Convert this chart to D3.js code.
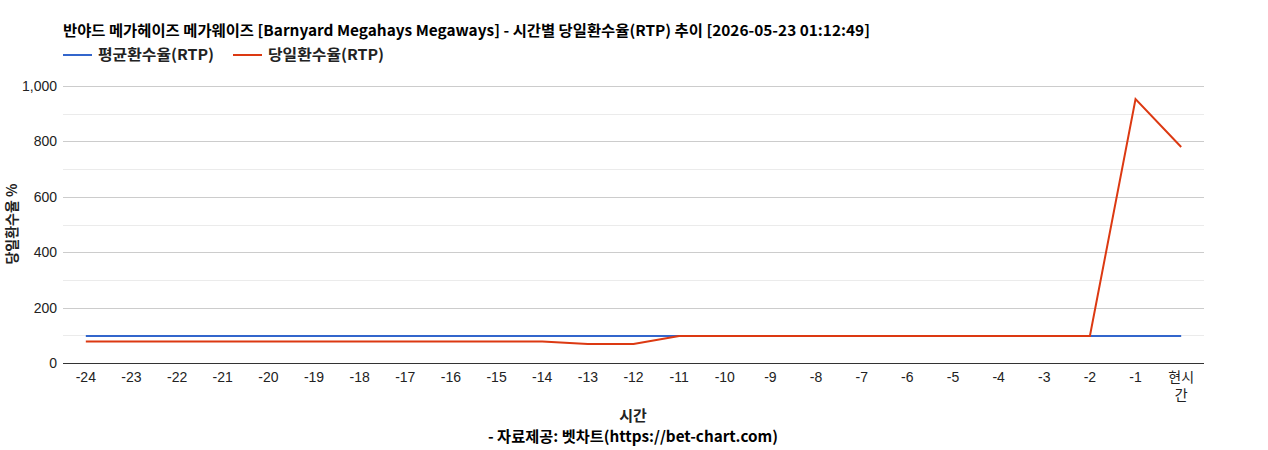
<!DOCTYPE html>
<html>
<head>
<meta charset="utf-8">
<script src="https://cdn.jsdelivr.net/npm/d3@7/dist/d3.min.js"></script>
<style>
  body { margin: 0; background: #fff; }
  text { font-family: "Liberation Sans", Arial, "Noto Sans CJK KR", sans-serif; }
  .kr { font-family: "Noto Sans CJK KR", sans-serif; }
</style>
</head>
<body>
<div id="chart"></div>
<script>
var w = 1268;
var h = 450;

var hours = ["-24","-23","-22","-21","-20","-19","-18","-17","-16","-15","-14","-13","-12",
             "-11","-10","-9","-8","-7","-6","-5","-4","-3","-2","-1","현시간"];
var avgRtp = [97.5,97.5,97.5,97.5,97.5,97.5,97.5,97.5,97.5,97.5,97.5,97.5,97.5,
              97.5,97.5,97.5,97.5,97.5,97.5,97.5,97.5,97.5,97.5,97.5,97.5];
var dayRtp = [78,78,78,78,78,78,78,78,78,78,78,69,69,
              97.6,97.6,97.6,97.6,97.6,97.6,97.6,97.6,97.6,97.6,953,780];
var yTicks = [0,200,400,600,800,1000];
var yMinor = [100,300,500,700,900];

var plotLeft = 63, plotRight = 1204, plotTop = 86, plotBottom = 363;

var svg = d3.select("#chart").append("svg")
            .attr("width", w)
            .attr("height", h);

var x = d3.scalePoint()
          .domain(hours)
          .range([plotLeft, plotRight])
          .padding(0.5);
var y = d3.scaleLinear()
          .domain([0, 1000])
          .range([plotBottom, plotTop]);

// gridlines
svg.selectAll("line.minor")
   .data(yMinor)
   .enter()
   .append("line")
   .attr("class", "minor")
   .attr("x1", plotLeft).attr("x2", plotRight)
   .attr("y1", function(d) { return Math.round(y(d)) + 0.5; })
   .attr("y2", function(d) { return Math.round(y(d)) + 0.5; })
   .attr("stroke", "#ebebeb");
svg.selectAll("line.major")
   .data(yTicks.slice(1))
   .enter()
   .append("line")
   .attr("class", "major")
   .attr("x1", plotLeft).attr("x2", plotRight)
   .attr("y1", function(d) { return Math.round(y(d)) + 0.5; })
   .attr("y2", function(d) { return Math.round(y(d)) + 0.5; })
   .attr("stroke", "#cccccc");

// y tick labels
svg.selectAll("text.ytick")
   .data(yTicks)
   .enter()
   .append("text")
   .attr("class", "ytick")
   .attr("x", plotLeft - 6)
   .attr("y", function(d) { return y(d) + 5; })
   .attr("text-anchor", "end")
   .attr("font-size", 14)
   .attr("fill", "#222")
   .text(function(d) { return d3.format(",")(d); });

// lines
var line = d3.line()
             .x(function(d, i) { return x(hours[i]); })
             .y(function(d) { return y(d); });

svg.append("path")
   .attr("d", line(avgRtp))
   .attr("fill", "none")
   .attr("stroke", "#3366cc")
   .attr("stroke-width", 2);
svg.append("path")
   .attr("d", line(dayRtp))
   .attr("fill", "none")
   .attr("stroke", "#dc3912")
   .attr("stroke-width", 2);

// baseline
svg.append("line")
   .attr("x1", plotLeft).attr("x2", plotRight)
   .attr("y1", plotBottom + 0.5).attr("y2", plotBottom + 0.5)
   .attr("stroke", "#333");

// x tick labels
var xt = svg.selectAll("text.xtick")
   .data(hours)
   .enter()
   .append("text")
   .attr("class", "xtick")
   .attr("x", function(d) { return x(d); })
   .attr("y", 382)
   .attr("text-anchor", "middle")
   .attr("font-size", 14)
   .attr("fill", "#222");
xt.filter(function(d) { return d !== "현시간"; }).text(function(d) { return d; });
var now = xt.filter(function(d) { return d === "현시간"; }).attr("class", "xtick kr");
now.append("tspan").attr("x", x("현시간")).attr("y", 382).text("현시");
now.append("tspan").attr("x", x("현시간")).attr("y", 400).text("간");

// titles
svg.append("text")
   .attr("class", "kr")
   .attr("x", 63).attr("y", 36)
   .attr("font-size", 15).attr("font-weight", "bold").attr("fill", "#000")
   .attr("textLength", 807).attr("lengthAdjust", "spacingAndGlyphs")
   .text("반야드 메가헤이즈 메가웨이즈 [Barnyard Megahays Megaways] - 시간별 당일환수율(RTP) 추이 [2026-05-23 01:12:49]");

var legend = [["평균환수율(RTP)", "#3366cc", 63], ["당일환수율(RTP)", "#dc3912", 233]];
legend.forEach(function(l) {
  svg.append("line")
     .attr("x1", l[2]).attr("x2", l[2] + 29)
     .attr("y1", 55).attr("y2", 55)
     .attr("stroke", l[1]).attr("stroke-width", 2);
  svg.append("text")
     .attr("class", "kr")
     .attr("x", l[2] + 35).attr("y", 60)
     .attr("font-size", 15).attr("font-weight", "bold").attr("fill", "#222")
     .attr("textLength", 116).attr("lengthAdjust", "spacingAndGlyphs")
     .text(l[0]);
});

svg.append("text")
   .attr("class", "kr")
   .attr("transform", "translate(17,224) rotate(-90)")
   .attr("text-anchor", "middle")
   .attr("font-size", 14).attr("font-weight", "bold").attr("fill", "#222")
   .text("당일환수율 %");

svg.append("text")
   .attr("class", "kr")
   .attr("x", 633).attr("y", 421)
   .attr("text-anchor", "middle")
   .attr("font-size", 15).attr("font-weight", "bold").attr("fill", "#222")
   .text("시간");
svg.append("text")
   .attr("class", "kr")
   .attr("x", 633).attr("y", 442)
   .attr("text-anchor", "middle")
   .attr("font-size", 15).attr("font-weight", "bold").attr("fill", "#000")
   .attr("textLength", 290).attr("lengthAdjust", "spacingAndGlyphs")
   .text("- 자료제공: 벳차트(https://bet-chart.com)");
</script>
</body>
</html>
